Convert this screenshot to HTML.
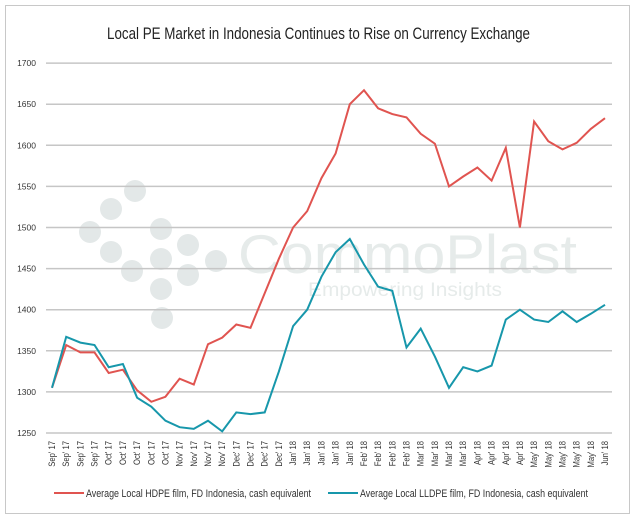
<!DOCTYPE html>
<html><head><meta charset="utf-8"><style>
body{margin:0;background:#fff;width:637px;height:526px;overflow:hidden}
svg{display:block;font-family:"Liberation Sans",sans-serif}
</style></head><body>
<svg id="s" width="637" height="526" xmlns="http://www.w3.org/2000/svg">
<rect x="5.5" y="5.5" width="624" height="508" fill="#fff" stroke="#c8c8c8"/>
<text x="107" y="39" font-size="17" fill="#222" textLength="423" lengthAdjust="spacingAndGlyphs">Local PE Market in Indonesia Continues to Rise on Currency Exchange</text>
<g fill="#e3e8e8">
<circle cx="135" cy="191" r="11"/><circle cx="111" cy="209" r="11"/><circle cx="90" cy="232" r="11"/><circle cx="111" cy="252" r="11"/><circle cx="132" cy="271" r="11"/><circle cx="161" cy="229" r="11"/><circle cx="188" cy="245" r="11"/><circle cx="161" cy="259" r="11"/><circle cx="188" cy="275" r="11"/><circle cx="216" cy="261" r="11"/><circle cx="161" cy="289" r="11"/><circle cx="162" cy="318" r="11"/>
</g>
<text x="238" y="273" font-size="55" fill="#e6ebea" textLength="339" lengthAdjust="spacingAndGlyphs">CommoPlast</text>
<text x="308" y="296" font-size="19" fill="#e6ebea" textLength="194" lengthAdjust="spacingAndGlyphs">Empowering Insights</text>
<g id="grid"></g>
<polyline id="h" fill="none" stroke="#e05450" stroke-width="2"/>
<polyline id="l" fill="none" stroke="#1797ab" stroke-width="2"/>
<g id="xl" font-size="9" fill="#333"></g>
<line x1="54" y1="493" x2="84" y2="493" stroke="#e05450" stroke-width="2"/>
<text x="86" y="497" font-size="11" fill="#333" textLength="225" lengthAdjust="spacingAndGlyphs">Average Local HDPE film, FD Indonesia, cash equivalent</text>
<line x1="328" y1="493" x2="358" y2="493" stroke="#1797ab" stroke-width="2"/>
<text x="360" y="497" font-size="11" fill="#333" textLength="228" lengthAdjust="spacingAndGlyphs">Average Local LLDPE film, FD Indonesia, cash equivalent</text>
</svg>
<script>
var H=[1305,1357,1348,1348,1323,1327,1302,1288,1294,1316,1309,1358,1366,1382,1378,1420,1462,1500,1520,1560,1590,1650,1667,1645,1638,1634,1614,1602,1550,1562,1573,1557,1597,1500,1629,1605,1595,1603,1620,1633];
var L=[1305,1367,1360,1357,1330,1334,1293,1282,1265,1257,1255,1265,1252,1275,1273,1275,1325,1380,1400,1440,1470,1486,1455,1428,1423,1354,1377,1343,1305,1330,1325,1332,1388,1400,1388,1385,1398,1385,1395,1406];
var lab=["Sep' 17","Sep' 17","Sep' 17","Sep' 17","Oct' 17","Oct' 17","Oct' 17","Oct' 17","Oct' 17","Nov' 17","Nov' 17","Nov' 17","Nov' 17","Dec' 17","Dec' 17","Dec' 17","Dec' 17","Jan' 18","Jan' 18","Jan' 18","Jan' 18","Jan' 18","Feb' 18","Feb' 18","Feb' 18","Feb' 18","Mar' 18","Mar' 18","Mar' 18","Mar' 18","Apr' 18","Apr' 18","Apr' 18","Apr' 18","May' 18","May' 18","May' 18","May' 18","May' 18","Jun' 18"];
function X(i){return 52+i*14.18}function Y(v){return 433-(v-1250)*0.822}
var ns="http://www.w3.org/2000/svg",g=document.getElementById('grid'),xl=document.getElementById('xl');
for(var v=1250;v<=1700;v+=50){var y=Y(v);var l=document.createElementNS(ns,'line');l.setAttribute('x1',46);l.setAttribute('x2',612);l.setAttribute('y1',y);l.setAttribute('y2',y);l.setAttribute('stroke','#c6c6c6');l.setAttribute('stroke-width','1.5');g.appendChild(l);
var t=document.createElementNS(ns,'text');t.setAttribute('x',36);t.setAttribute('y',y+3);t.setAttribute('text-anchor','end');t.setAttribute('font-size','8.5');t.setAttribute('fill','#333');t.textContent=v;g.appendChild(t);}
function pts(a){return a.map(function(v,i){return X(i).toFixed(1)+','+Y(v).toFixed(1)}).join(' ')}
document.getElementById('h').setAttribute('points',pts(H));
document.getElementById('l').setAttribute('points',pts(L));
lab.forEach(function(s,i){var t=document.createElementNS(ns,'text');var x=X(i)+3,y=441;t.setAttribute('transform','translate('+x+','+y+') rotate(-90) scale(0.85,1)');t.setAttribute('text-anchor','end');t.textContent=s;xl.appendChild(t);});
</script>
</body></html>
